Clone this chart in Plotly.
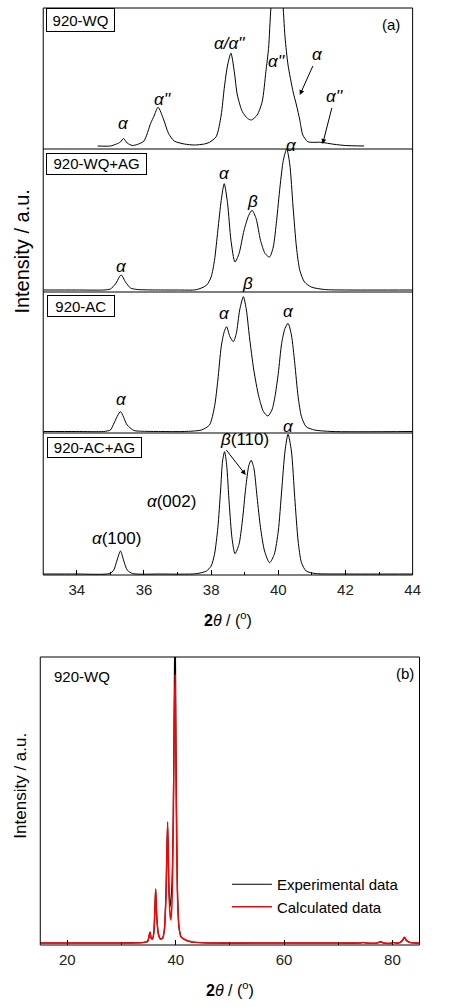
import plotly.graph_objects as go

# ---------------- data ----------------
# Panel (a): 2theta (deg) and relative intensity (a.u.) of four samples
x_wq = [34.62, 35.0, 35.18, 35.3, 35.39, 35.5, 35.65, 35.8, 36.0, 36.2, 36.3, 36.42, 36.59, 36.73, 36.9, 37.2,
        37.5, 37.8, 37.95, 38.15, 38.3, 38.39, 38.49, 38.59, 38.69, 38.78, 38.93, 39.08, 39.2, 39.37, 39.52,
        39.63, 39.71, 39.78, 39.88, 40.0, 40.08, 40.13, 40.2, 40.29, 40.44, 40.54, 40.64, 40.73, 40.88, 41.27,
        41.66, 42.0, 42.55]
i_wq = [3, 3, 5, 7, 10.5, 6, 3.5, 4.5, 8, 25.7, 33, 41.7, 29, 15.7, 8, 5,
        4, 5, 6.7, 12.3, 34, 60.7, 84, 95.7, 77.3, 54, 37.3, 30.7, 29, 34, 47.3,
        77.3, 100.7, 141, 172, 182, 172, 150, 112, 84, 57.3, 44, 29, 14, 7.3, 6.7,
        4.7, 3.5, 3]

x_wqag = [33.0, 34.0, 34.8, 35.0, 35.15, 35.32, 35.45, 35.6, 35.8, 36.5, 37.0, 37.56, 37.86, 38.0, 38.1,
          38.2, 38.3, 38.39, 38.49, 38.59, 38.71, 38.83, 38.98, 39.12, 39.22, 39.34, 39.47, 39.61, 39.74,
          39.85, 39.95, 40.05, 40.15, 40.25, 40.34, 40.44, 40.54, 40.64, 40.78, 40.98, 41.37, 42.0, 44.0]
i_wqag = [2, 2, 2, 3, 8, 17, 10, 4, 2.5, 2, 2, 2.3, 6.7, 15, 31.7,
          61.7, 91.7, 108.3, 88.3, 51.7, 30, 38.3, 61.7, 76.7, 81.7, 73.3, 51.7, 38.3, 35,
          45, 71.7, 105, 131.7, 143, 128.3, 85, 45, 21.7, 10, 5, 2.5, 2, 2]

x_ac = [33.0, 34.0, 34.8, 35.0, 35.11, 35.3, 35.5, 35.7, 35.9, 36.5, 37.2, 37.71, 37.95, 38.1, 38.2, 38.3,
        38.39, 38.46, 38.56, 38.66, 38.75, 38.85, 38.96, 39.05, 39.14, 39.27, 39.42, 39.56, 39.69, 39.81,
        39.9, 40.0, 40.1, 40.2, 40.29, 40.39, 40.49, 40.59, 40.69, 40.83, 41.08, 41.6, 44.0]
i_ac = [1.5, 1.5, 1.5, 3, 10, 21.3, 8, 2.5, 1.8, 1.5, 1.5, 3, 8, 26.3, 53, 86.3,
        101.3, 106.3, 96.3, 91.3, 99.7, 123, 136.3, 123, 96.3, 63, 36.3, 21.3, 17, 23,
        36.3, 59.7, 89.7, 104.7, 109.7, 98, 69.7, 36.3, 16.3, 6.3, 3, 1.5, 1.5]

x_acag = [33.0, 34.0, 34.98, 35.1, 35.2, 35.3, 35.4, 35.5, 35.66, 36.5, 37.56, 37.86, 38.0, 38.1, 38.2,
          38.28, 38.34, 38.4, 38.46, 38.54, 38.62, 38.71, 38.83, 38.93, 39.03, 39.12, 39.19, 39.27, 39.37,
          39.47, 39.59, 39.74, 39.88, 40.0, 40.1, 40.2, 40.29, 40.39, 40.49, 40.59, 40.69, 40.83, 41.1,
          42.0, 44.0]
i_acag = [1, 1, 1.5, 5, 15, 24, 14, 5, 1.5, 1, 1.3, 4, 9, 20.7, 47.3,
          84, 114, 123.3, 110.7, 70.7, 37.3, 21.3, 30.7, 54, 87.3, 109, 114.7, 107.3, 77.3,
          47.3, 24, 12.3, 20.7, 44, 84, 124, 140.7, 124, 77.3, 34, 12.3, 4, 1.5,
          1, 1]

# Panel (b): full pattern of 920-WQ, experimental vs calculated
x_b = [15, 25, 30, 34.0, 34.8, 35.05, 35.25, 35.45, 35.7, 35.95, 36.15, 36.3, 36.5, 36.8, 37.2, 37.6, 37.9,
       38.2, 38.5, 38.75, 38.95, 39.1, 39.3, 39.55, 39.75, 39.88, 40.05, 40.3, 40.6, 41.0, 41.8, 43, 46, 55,
       70, 74, 74.6, 75.2, 77.2, 77.8, 78.4, 79.8, 80.2, 80.6, 81.4, 81.9, 82.2, 82.6, 83.2, 84, 85]
i_calc = [2, 2, 2, 2.5, 3.5, 8, 13, 7, 6, 12, 35, 56, 28, 11, 6, 7, 15,
          50, 123, 55, 30, 25, 40, 120, 230, 270, 170, 55, 18, 8, 5, 3, 2, 2,
          2, 2, 2.5, 2, 2, 3.3, 2, 1.8, 2.5, 2, 2.5, 5, 7.7, 4.5, 2.5, 2, 2]
i_exp = [2, 2, 2, 2.5, 3.5, 8, 13, 7, 6, 12, 35, 56, 28, 11, 6, 7, 15,
         50, 123, 55, 38, 45, 60, 130, 260, 340, 200, 60, 18, 8, 5, 3, 2, 2,
         2, 2, 2.5, 2, 2, 3.3, 2, 1.8, 2.5, 2, 2.5, 5, 7.7, 4.5, 2.5, 2, 2]

sample_names = ["920-WQ", "920-WQ+AG", "920-AC", "920-AC+AG"]
a_ticks = [34, 36, 38, 40, 42, 44]
b_ticks = [20, 40, 60, 80]

# ---------------- layout helpers ----------------
W, H = 456, 1007
FONT = "Liberation Sans, Arial, sans-serif"


def px(x):
    return x / W


def py(y):
    return 1 - y / H


fig = go.Figure()

series_a = [(x_wq, i_wq), (x_wqag, i_wqag), (x_ac, i_ac), (x_acag, i_acag)]
ykeys = ["y", "y2", "y3", "y4"]
for (xs, ys), yk, name in zip(series_a, ykeys, sample_names):
    fig.add_trace(go.Scatter(x=xs, y=ys, xaxis="x", yaxis=yk, mode="lines", name=name,
                             line=dict(color="black", width=1, shape="spline", smoothing=0.7),
                             showlegend=False))

fig.add_trace(go.Scatter(x=x_b, y=i_exp, xaxis="x2", yaxis="y5", mode="lines", name="Experimental data",
                         line=dict(color="black", width=1.2, shape="spline", smoothing=0.7)))
fig.add_trace(go.Scatter(x=x_b, y=i_calc, xaxis="x2", yaxis="y5", mode="lines", name="Calculated data",
                         line=dict(color="#ff0000", width=1.5, shape="spline", smoothing=0.7)))

# panel (a) vertical bounds (px): rows
rows = [(8, 149), (149, 292), (292, 433), (433, 575)]
yax_common = dict(showticklabels=False, ticks="", showline=False, showgrid=False, zeroline=False,
                  fixedrange=True)
for k, (top, bot) in enumerate(rows):
    name = "yaxis" if k == 0 else f"yaxis{k + 1}"
    fig.layout[name] = dict(domain=[py(bot), py(top)], range=[0, bot - top], anchor="x", **yax_common)

xt = "<b>2</b><i>θ</i> / (<sup>o</sup>)"
tickfont = dict(family=FONT, size=15, color="#222")
title_font = dict(family=FONT, size=16, color="black")
fig.update_layout(
    xaxis=dict(domain=[px(44), px(420)], range=[33, 44], anchor="y4", tickvals=a_ticks,
               ticks="inside", ticklen=5, tickcolor="black", tickwidth=1, ticklabelstandoff=4,
               minor=dict(ticks="inside", ticklen=3, dtick=1, tick0=33, tickcolor="black"),
               showgrid=False, zeroline=False, showline=False, tickfont=tickfont, fixedrange=True,
               title=dict(text=xt, font=title_font, standoff=17)),
    xaxis2=dict(domain=[px(41), px(427)], range=[15, 85], anchor="y5", tickvals=b_ticks,
                ticks="inside", ticklen=5, tickcolor="black", tickwidth=1, ticklabelstandoff=4,
                minor=dict(ticks="inside", ticklen=3, dtick=10, tick0=10, tickcolor="black"),
                showgrid=False, zeroline=False, showline=False, tickfont=tickfont, fixedrange=True,
                title=dict(text=xt, font=title_font, standoff=17)),
    yaxis5=dict(domain=[py(945), py(657)], range=[0, 288], anchor="x2", **yax_common),
)

# frames
shapes = []
shapes.append(dict(type="rect", xref="paper", yref="paper", x0=px(44), x1=px(420), y0=py(575), y1=py(8),
                   line=dict(color="black", width=1)))
for yy in (149, 292, 433):
    shapes.append(dict(type="line", xref="paper", yref="paper", x0=px(44), x1=px(420), y0=py(yy), y1=py(yy),
                       line=dict(color="black", width=1)))
shapes.append(dict(type="rect", xref="paper", yref="paper", x0=px(41), x1=px(427), y0=py(945), y1=py(657),
                   line=dict(color="black", width=1)))

ann = []


def lab(text, x, y, size=17, **kw):
    d = dict(text=text, x=px(x), y=py(y), xref="paper", yref="paper", showarrow=False,
             xanchor="center", yanchor="middle", font=dict(family=FONT, size=size, color="black"))
    d.update(kw)
    ann.append(d)


def arrow_lab(text, head_x, head_y, yref, ax, ay, size=17, **kw):
    d = dict(text=text, x=head_x, y=head_y, xref="x", yref=yref, showarrow=True, ax=ax, ay=ay,
             arrowhead=2, arrowsize=1, arrowwidth=1, arrowcolor="black",
             font=dict(family=FONT, size=size, color="black"))
    d.update(kw)
    ann.append(d)


# boxed sample labels
boxes = [(47.7, 116.7, 8.3, 32.3), (47.7, 149, 153.3, 175), (49, 116.7, 295, 317.3), (48.3, 143.3, 436.7, 457.3)]
for name, (x0, x1, y0, y1) in zip(sample_names, boxes):
    lab(name, (x0 + x1) / 2, (y0 + y1) / 2, size=15, bordercolor="black", borderwidth=1, borderpad=0,
        bgcolor="white", width=x1 - x0 - 2, height=y1 - y0 - 2)

A = "<i>α</i>"
A2 = "<i>α''</i>"
B = "<i>β</i>"
# panel 1
lab(A, 125.7, 123.3)
lab(A2, 165.7, 99)
lab("<i>α/α''</i>", 233.3, 43.3)
lab(A2, 281.7, 61.7)
arrow_lab(A, 40.64, 54, "y", 18, -40)
arrow_lab(A2, 41.32, 5, "y", 12, -47)
lab("(a)", 398, 25, size=15)
# panel 2
lab(A, 228.3, 173.3)
lab(B, 256.7, 201.7)
lab(A, 296.7, 145.5)
lab(A, 123.3, 266.7)
# panel 3
lab(B, 251.7, 283.3)
lab(A, 228.3, 313.3)
lab(A, 293.3, 311.7)
lab(A, 123.3, 400)
# panel 4
lab(A, 293.3, 426)
arrow_lab(B + "(110)", 39.03, 100, "y4", -28, -36, xanchor="left", yanchor="middle")
lab(A + "(002)", 175, 501.7)
lab(A + "(100)", 118.3, 538.3)
# panel b
lab("920-WQ", 83, 676, size=15)
lab("(b)", 412, 673, size=15)

# y titles (one per panel group)
lab("Intensity / a.u.", 22, 251, size=20, textangle=-90)
lab("Intensity / a.u.", 20, 786, size=17, textangle=-90)

fig.update_layout(
    width=W, height=H, margin=dict(l=0, r=0, t=0, b=0),
    paper_bgcolor="white", plot_bgcolor="white",
    font=dict(family=FONT, color="black"),
    shapes=shapes, annotations=ann,
    showlegend=True,
    legend=dict(x=px(231), y=py(868), xanchor="left", yanchor="top", bgcolor="rgba(0,0,0,0)",
                font=dict(family=FONT, size=15, color="black"), itemwidth=40),
)

fig.write_html("out.html", config={"displayModeBar": False},
               post_script="document.body.style.margin='0';document.body.style.overflow='hidden';")
